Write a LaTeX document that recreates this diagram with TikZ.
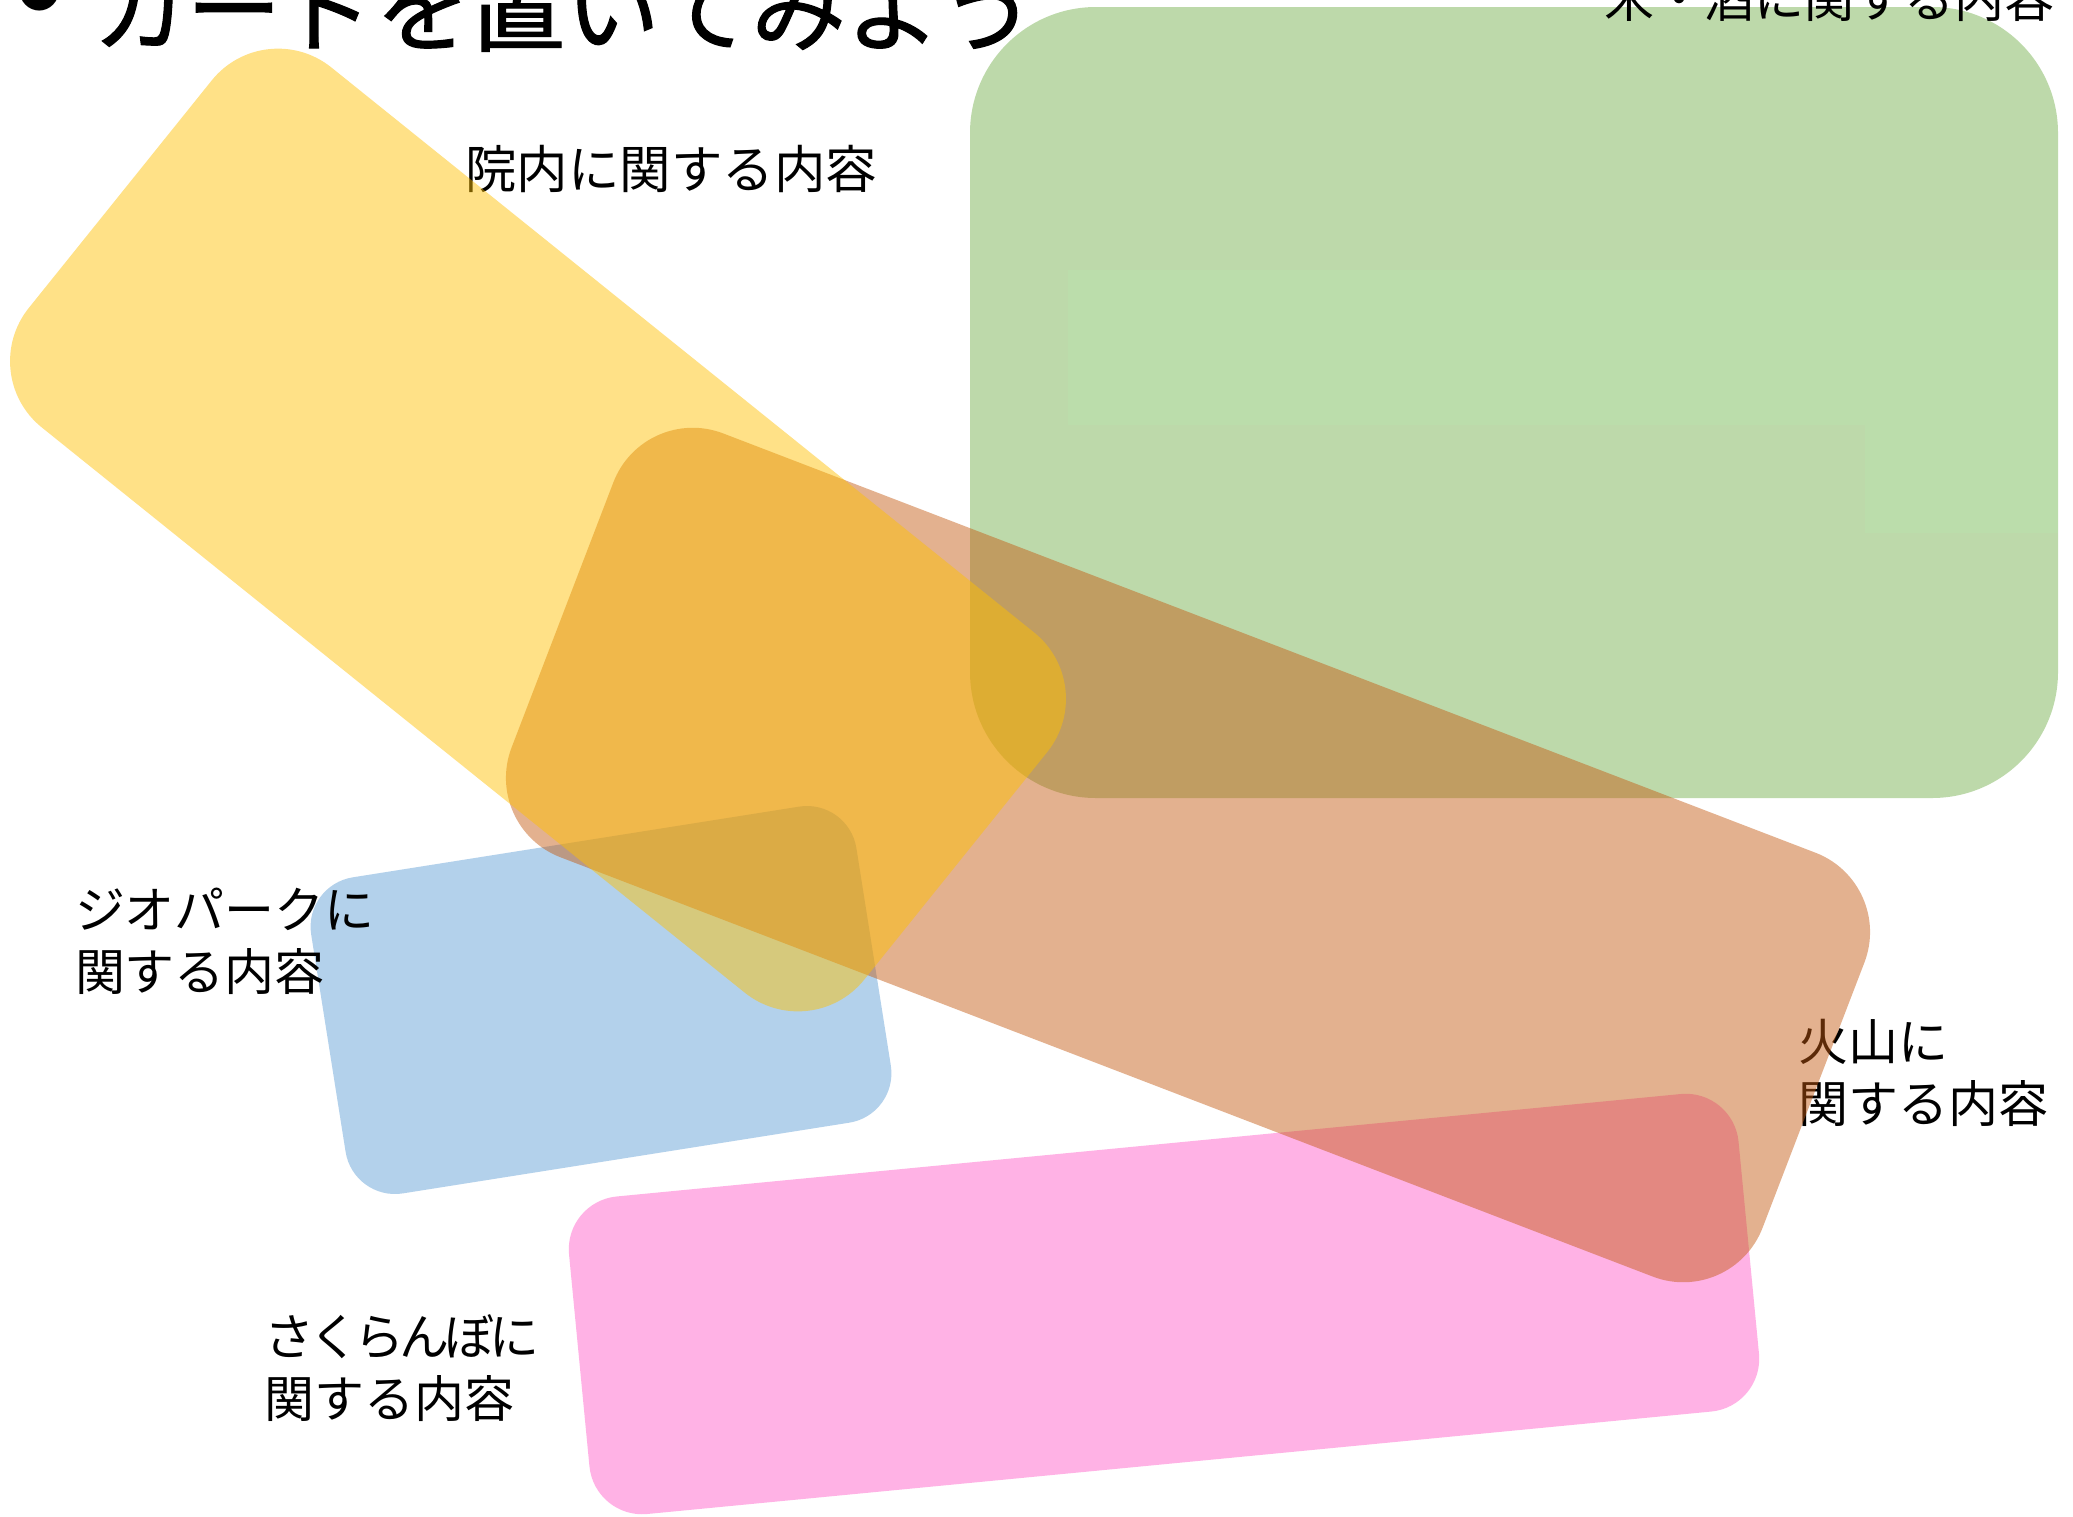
\documentclass[tikz,border=0pt]{standalone}
\usepackage{fontspec}
\newfontfamily\jpfont{Noto Sans CJK JP}
\newfontfamily\jptitle[FakeBold=1.2]{Noto Sans CJK JP}
\definecolor{cyellow}{HTML}{FFC000}
\definecolor{corange}{HTML}{C55A11}
\definecolor{cgreen}{HTML}{70AD47}
\definecolor{cblue}{HTML}{5B9BD5}
\definecolor{cpink}{HTML}{FF66CC}
\definecolor{cpatch}{RGB}{187,221,171}
\newcommand\mytwolines[2]{\vtop{\hbox{#1}\hbox{#2}}}
\begin{document}
\begin{tikzpicture}[x=0.5pt,y=-0.5pt,
  card/.style={rectangle, draw=none, inner sep=0pt, outer sep=0pt, fill opacity=0.47},
  lbl/.style={anchor=base west, inner sep=0pt, outer sep=0pt, text=black,
    font=\jpfont\fontsize{25pt}{31pt}\selectfont},
  ttl/.style={inner sep=0pt, outer sep=0pt, text=black,
    font=\jptitle\fontsize{47.3pt}{50pt}\selectfont}]
\useasboundingbox (0,0) rectangle (2073,1516);
\clip (0,0) rectangle (2073,1516);
\fill[white] (0,0) rectangle (2073,1516);

% labels lying under the cards
\node[lbl, font=\jpfont\fontsize{25.75pt}{31pt}\selectfont] (inai) at (465,188) {院内に関する内容};
\node[lbl] (kazan) at (1798,1060) {\mytwolines{火山に}{関する内容}};
\node[lbl] (sakura) at (264,1355)
  {\mytwolines{\addfontfeature{LetterSpace=-10}さくらんぼに}{関する内容}};

% cards
\node[card, fill=cpink, fill opacity=0.5, minimum width=587.5pt, minimum height=159.5pt,
  rounded corners=26.5pt, rotate=5.5] (pink) at (1164,1304) {};
\node[card, fill=cblue, fill opacity=0.46, minimum width=276pt, minimum height=160pt,
  rounded corners=25pt, rotate=9] (blue) at (601,1000) {};
\node[card, fill=cgreen, fill opacity=0.46, minimum width=544pt, minimum height=395.5pt,
  rounded corners=63pt] (green) at (1514,402.5) {};
\fill[cpatch] (1068,270) rectangle (2058,425);
\fill[cpatch] (1865,425) rectangle (2058,533);
\node[card, fill=corange, minimum width=670pt, minimum height=227pt,
  rounded corners=42.5pt, rotate=-21] (orange) at (1188,855) {};
\node[card, fill=cyellow, minimum width=536pt, minimum height=231pt,
  rounded corners=42.5pt, rotate=-38.8] (yellow) at (538,530) {};

% labels on top
\node[lbl] (kome) at (1604,17) {米・酒に関する内容};
\node[lbl] (geo) at (75,928) {\mytwolines{ジオパークに}{関する内容}};
\node[ttl, font=\jpfont\fontsize{80pt}{80pt}\selectfont] (bullet) at (40,2) {•};
\node[ttl, anchor=base west] (title) at (92,44) {カードを置いてみよう};
\end{tikzpicture}
\end{document}
